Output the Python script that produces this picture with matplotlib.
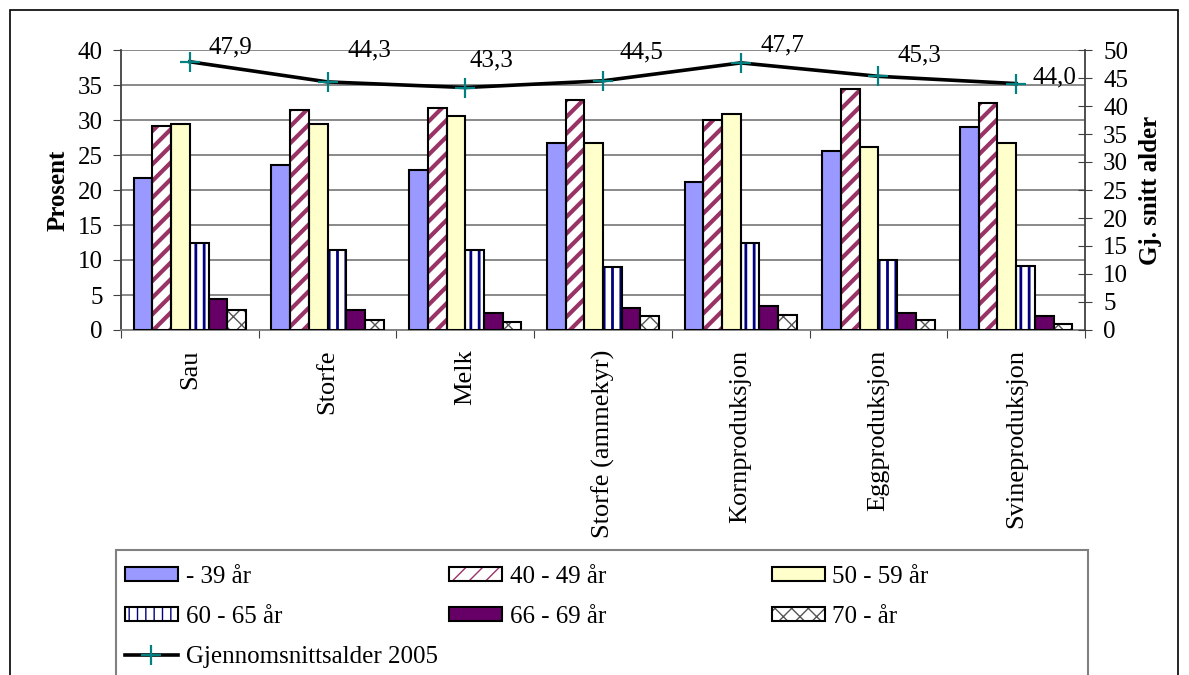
import matplotlib
matplotlib.use('Agg')
import matplotlib.pyplot as plt
from matplotlib.patches import Patch, Rectangle
from matplotlib.lines import Line2D
import numpy as np

plt.rcParams['font.family'] = ['Liberation Serif', 'DejaVu Serif']

categories = ['Sau', 'Storfe', 'Melk', 'Storfe (ammekyr)', 'Kornproduksjon',
              'Eggproduksjon', 'Svineproduksjon']
age_groups = ['- 39 år', '40 - 49 år', '50 - 59 år', '60 - 65 år', '66 - 69 år', '70 - år']

# prosent per aldersgruppe
under_39 = [21.7, 23.6, 22.9, 26.7, 21.2, 25.6, 29.0]
age_40_49 = [29.2, 31.4, 31.7, 32.8, 30.0, 34.5, 32.5]
age_50_59 = [29.5, 29.5, 30.6, 26.7, 30.9, 26.2, 26.7]
age_60_65 = [12.5, 11.4, 11.4, 9.0, 12.5, 10.0, 9.2]
age_66_69 = [4.5, 2.8, 2.5, 3.2, 3.4, 2.5, 2.0]
over_70 = [2.8, 1.5, 1.2, 2.0, 2.1, 1.5, 0.8]

# gjennomsnittsalder 2005
mean_age = [47.9, 44.3, 43.3, 44.5, 47.7, 45.3, 44.0]
mean_age_labels = ['47,9', '44,3', '43,3', '44,5', '47,7', '45,3', '44,0']

series = [under_39, age_40_49, age_50_59, age_60_65, age_66_69, over_70]
# (fill, hatch, hatch colour, hatch width)
styles = [
    ('#9999FF', None, 'black', 1.0),
    ('white', '//', '#993366', 3.0),
    ('#FFFFCC', None, 'black', 1.0),
    ('white', '||', '#000080', 2.0),
    ('#660066', None, 'black', 1.0),
    ('white', 'xx', '#555555', 1.0),
]
# label offsets in pixels (as placed in the original)
label_offsets = [(19, 14), (20, 31), (4, 27), (16, 28), (20, 17), (19, 21), (16, 6)]

FS = 18
W, H = 1189, 675
fig = plt.figure(figsize=(W / 100, H / 100), dpi=100)

# outer frame and legend frame
fig.patches.append(Rectangle((10 / W, -0.1), 1168 / W, 1.1 - 10 / H, transform=fig.transFigure,
                             fill=False, edgecolor='black', lw=1.2))
fig.patches.append(Rectangle((116 / W, -0.1), 972 / W, 0.1 + 1 - 550 / H, transform=fig.transFigure,
                             fill=False, edgecolor='#808080', lw=1.5))

ax = fig.add_axes([121 / W, 1 - 330 / H, 964 / W, 280 / H])
x = np.arange(len(categories))
width = 0.136

handles = []
for i, (vals, (fc, hatch, hc, hlw)) in enumerate(zip(series, styles)):
    pos = x + (i - 2.5) * width
    with plt.rc_context({'hatch.linewidth': hlw}):
        if hatch:
            bars = ax.bar(pos, vals, width, color=fc, edgecolor=hc, hatch=hatch, lw=0, zorder=2)
            for b in bars:
                if hasattr(b, 'set_hatch_linewidth'):
                    b.set_hatch_linewidth(hlw)
            h1 = Patch(facecolor=fc, edgecolor=hc, hatch=hatch, lw=0)
            if hasattr(h1, 'set_hatch_linewidth'):
                h1.set_hatch_linewidth(hlw)
            h2 = Patch(facecolor='none', edgecolor='black', lw=1.5)
            handles.append((h1, h2))
        else:
            ax.bar(pos, vals, width, color=fc, lw=0, zorder=2)
            handles.append(Patch(facecolor=fc, edgecolor='black', lw=1.5))
    ax.bar(pos, vals, width, fill=False, edgecolor='black', lw=1.5, zorder=3)

ax.set_xlim(-0.5, len(categories) - 0.5)
ax.set_ylim(0, 40)
ax.set_yticks(np.arange(0, 41, 5))
ax.yaxis.grid(True, color='#808080', lw=1.3)
ax.set_axisbelow(True)
ax.set_xticks(np.arange(-0.5, len(categories), 1))
ax.set_xticklabels([])
ax.set_xticks(x, minor=True)
ax.set_xticklabels(categories, minor=True, rotation=90, fontsize=FS + 1)
ax.tick_params(axis='x', which='minor', length=0, pad=14)
ax.tick_params(axis='x', which='major', length=6, color='#404040')
ax.tick_params(axis='y', labelsize=FS, length=6, pad=7, color='#404040')
ax.set_ylabel('Prosent', fontsize=FS, fontweight='bold', labelpad=6)
for s in ['top', 'right']:
    ax.spines[s].set_visible(False)
ax.spines['left'].set_color('#404040')
ax.spines['bottom'].set_color('#808080')
ax.spines['left'].set_linewidth(1.3)
ax.spines['bottom'].set_linewidth(1.3)

ax2 = ax.twinx()
ax2.set_ylim(0, 50)
ax2.set_yticks(np.arange(0, 51, 5))
line, = ax2.plot(x, mean_age, color='black', lw=2.6, marker='+', ms=14,
                 mec='#008080', mew=1.6, zorder=4)
for xi, yi, lab, off in zip(x, mean_age, mean_age_labels, label_offsets):
    ax2.annotate(lab, (xi, yi), xytext=off, textcoords='offset pixels',
                 ha='left', va='center', fontsize=FS)
ax2.tick_params(axis='y', labelsize=FS, direction='inout', length=10, pad=8, color='#404040')
ax2.set_ylabel('Gj. snitt alder', fontsize=FS, fontweight='bold', labelpad=8)
for s in ['top', 'left', 'bottom']:
    ax2.spines[s].set_visible(False)
ax2.spines['right'].set_color('#404040')
ax2.spines['right'].set_linewidth(1.3)

line_handle = Line2D([], [], color='black', lw=2.6, marker='+', ms=14, mec='#008080', mew=1.6)
leg_kw = dict(frameon=False, fontsize=FS, handlelength=2.1, handleheight=0.48,
              handletextpad=0.32, labelspacing=0.71, borderpad=0, borderaxespad=0,
              loc='upper left', bbox_transform=fig.transFigure)
columns = [
    ([handles[0], handles[3], line_handle], [age_groups[0], age_groups[3], 'Gjennomsnittsalder 2005'], 125),
    ([handles[1], handles[4]], [age_groups[1], age_groups[4]], 449),
    ([handles[2], handles[5]], [age_groups[2], age_groups[5]], 772),
]
for hs, ls, left in columns:
    leg = fig.legend(hs, ls, bbox_to_anchor=(left / W, 1 - 566 / H), **leg_kw)

fig.savefig('out.png', dpi=100)
